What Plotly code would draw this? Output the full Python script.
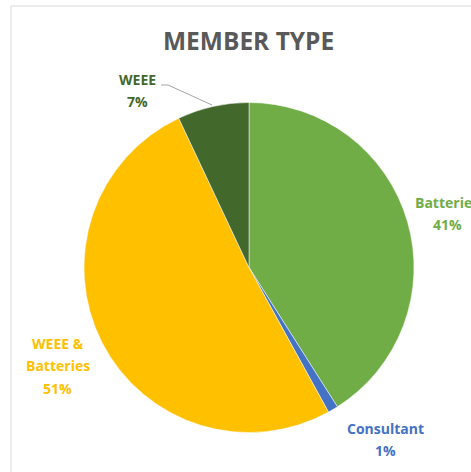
import plotly.graph_objects as go

labels = ["Batteries", "Consultant", "WEEE & Batteries", "WEEE"]
values = [41, 1, 51, 7]
colors = ["#70AD47", "#4472C4", "#FFC000", "#43682B"]
pct_text = ["41%", "1%", "51%", "7%"]

W, H = 471, 472
cx, cy, r = 249, 267.5, 165

fig = go.Figure()
fig.add_trace(go.Pie(
    labels=labels, values=values, sort=False, direction="clockwise", rotation=0,
    marker=dict(colors=colors, line=dict(color="white", width=0.5)),
    textinfo="none", hoverinfo="label+percent", showlegend=False,
    domain=dict(x=[(cx - r) / W, (cx + r) / W], y=[1 - (cy + r) / H, 1 - (cy - r) / H]),
))

# label line positions (pixel centers) for each slice
label_lines = {
    "Batteries": (["Batteries"], 447, 202),
    "Consultant": (["Consultant"], 385, 428),
    "WEEE & Batteries": (["WEEE &", "Batteries"], 57.5, 343),
    "WEEE": (["WEEE"], 137.5, 79),
}
spacing = 22.5
anns = []
for lab, col, pct in zip(labels, colors, pct_text):
    lines, x, y0 = label_lines[lab]
    for i, t in enumerate(lines + [pct]):
        anns.append(dict(x=x / W, y=1 - (y0 + i * spacing) / H, xref="paper", yref="paper",
                         text=f"<b>{t}</b>", showarrow=False,
                         font=dict(family="Open Sans", size=14, color=col),
                         xanchor="center", yanchor="middle"))

anns.append(dict(x=248 / W, y=1 - 40 / H, xref="paper", yref="paper",
                 text="<b>MEMBER TYPE</b>", showarrow=False,
                 font=dict(family="Open Sans", size=24.5, color="#595959"),
                 xanchor="center", yanchor="middle"))

shapes = [
    dict(type="rect", xref="paper", yref="paper", x0=11 / W, x1=1.1, y0=-0.1, y1=1 - 6 / H,
         line=dict(color="#D9D9D9", width=1), fillcolor="rgba(0,0,0,0)"),
    dict(type="path", xref="paper", yref="paper",
         path=f"M {161/W},{1-85/H} L {168/W},{1-85/H} L {212/W},{1-105/H}",
         line=dict(color="#A6A6A6", width=1)),
]

fig.update_layout(width=W, height=H, margin=dict(l=0, r=0, t=0, b=0),
                  paper_bgcolor="white", plot_bgcolor="white",
                  annotations=anns, shapes=shapes)
fig.write_html("out.html", config={"displayModeBar": False},
               post_script="document.body.style.margin='0';document.body.style.overflow='hidden';")
